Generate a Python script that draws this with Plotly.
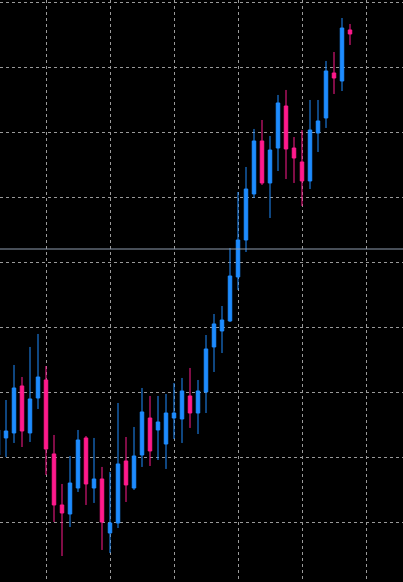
import plotly.graph_objs as go

# bar index, one per candle
bar = list(range(45))

open_ = [110.46, 113.08, 113.85, 121.08, 113.85, 119.23, 122.00, 110.62, 102.77, 101.38,
         105.38, 113.08, 105.38, 106.77, 98.46, 100.00, 109.54, 105.38, 110.46, 116.15,
         114.31, 112.15, 116.15, 116.00, 119.54, 116.92, 120.15, 127.08, 129.54, 131.08,
         137.85, 143.54, 150.62, 158.77, 152.31, 157.69, 164.15, 157.69, 155.54, 152.62,
         160.00, 162.31, 169.23, 168.00, 175.85]
high = [114.62, 118.92, 124.31, 122.46, 127.08, 129.08, 124.15, 113.54, 106.00, 110.31,
        114.31, 113.38, 113.08, 108.62, 107.85, 118.46, 113.23, 114.77, 120.77, 119.54,
        119.54, 119.85, 121.54, 122.31, 123.85, 122.00, 128.92, 132.15, 133.38, 142.31,
        150.92, 154.77, 160.62, 162.00, 159.54, 165.85, 166.62, 159.38, 160.46, 165.08,
        165.08, 171.08, 172.46, 177.69, 176.77]
low = [106.15, 110.15, 112.31, 111.69, 112.46, 117.54, 107.38, 100.15, 94.92, 99.38,
       104.77, 102.77, 103.08, 95.85, 95.38, 99.23, 103.23, 105.08, 108.62, 108.77,
       109.69, 108.31, 112.92, 112.31, 114.62, 113.69, 116.92, 123.23, 126.15, 130.92,
       135.85, 141.69, 150.00, 152.00, 146.92, 154.15, 152.92, 152.31, 148.77, 151.38,
       157.08, 160.77, 166.00, 166.46, 173.54]
close = [114.31, 114.15, 120.77, 114.15, 119.08, 122.46, 111.38, 102.77, 101.54, 106.15,
         112.77, 106.00, 106.77, 100.15, 100.00, 109.08, 105.85, 110.31, 117.08, 111.08,
         115.54, 116.92, 116.92, 120.31, 116.92, 120.31, 126.77, 130.62, 131.23, 138.00,
         143.54, 151.38, 158.77, 152.31, 157.38, 164.62, 157.54, 156.15, 152.62, 160.46,
         161.85, 169.54, 168.46, 176.15, 175.23]

level = 142.15

up_col = '#1e8cff'
down_col = '#ff1a8c'

fig = go.Figure()

fig.add_trace(
    go.Candlestick(
        x=bar,
        open=open_,
        high=high,
        low=low,
        close=close,
        increasing=dict(line=dict(color=up_col, width=1), fillcolor=up_col),
        decreasing=dict(line=dict(color=down_col, width=1), fillcolor=down_col),
        showlegend=False,
        hoverinfo='skip',
    )
)

# horizontal level line
fig.add_hline(y=level, line=dict(color='#8f9db0', width=1))

fig.update_layout(
    width=403,
    height=582,
    margin=dict(l=0, r=0, t=0, b=0),
    paper_bgcolor='black',
    plot_bgcolor='black',
    showlegend=False,
    boxgap=0.38,
)

fig.update_xaxes(
    range=[0.25, 50.625],
    tick0=6,
    dtick=8,
    showgrid=True,
    gridcolor='#9a9a9a',
    gridwidth=1,
    griddash='3px,3px',
    showticklabels=False,
    zeroline=False,
    rangeslider_visible=False,
)
fig.update_yaxes(
    range=[90.92, 180.46],
    tick0=100,
    dtick=10,
    showgrid=True,
    gridcolor='#9a9a9a',
    gridwidth=1,
    griddash='3px,3px',
    showticklabels=False,
    zeroline=False,
)

# page body has a default margin; drop it so the chart fills the window
fig.write_html(
    "out.html",
    config=dict(displayModeBar=False),
    post_script="document.body.style.margin='0';document.body.style.background='black';",
)
